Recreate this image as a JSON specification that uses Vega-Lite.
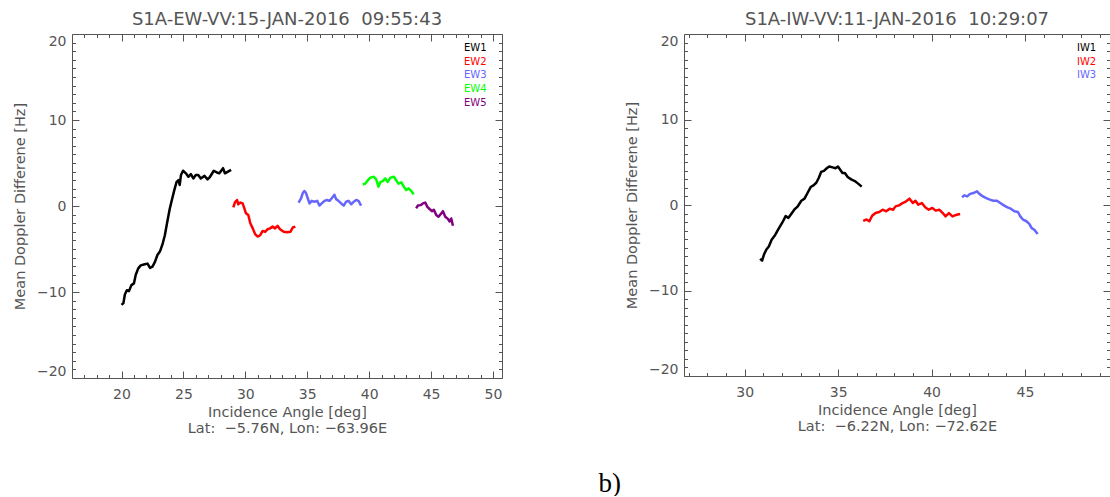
{
  "$schema": "https://vega.github.io/schema/vega-lite/v6.json",
  "padding": {"left": 12, "top": 10, "right": 0, "bottom": 0},
  "background": "white",
  "spacing": 182,
  "bounds": "flush",
  "config": {
    "view": {"stroke": null},
    "font": "DejaVu Sans",
    "axis": {
      "labelFont": "DejaVu Sans", "labelFontSize": 14, "labelColor": "#555",
      "titleFont": "DejaVu Sans", "titleFontSize": 14.5, "titleFontWeight": "normal", "titleColor": "#555",
      "domainColor": "#555", "tickColor": "#555", "grid": false, "labelOverlap": false, "labelBound": false
    },
    "title": {"font": "DejaVu Sans", "fontSize": 18, "fontWeight": "normal", "color": "#555", "offset": 5},
    "legend": {"labelFont": "DejaVu Sans", "labelFontSize": 10}
  },
  "datasets": {
    "ew": [
      {"beam":"EW1","angle":20.0,"doppler":-11.5},{"beam":"EW1","angle":20.15,"doppler":-11.3},{"beam":"EW1","angle":20.27,"doppler":-10.3},{"beam":"EW1","angle":20.43,"doppler":-9.8},{"beam":"EW1","angle":20.6,"doppler":-9.9},{"beam":"EW1","angle":20.8,"doppler":-9.2},{"beam":"EW1","angle":21.0,"doppler":-9.0},{"beam":"EW1","angle":21.15,"doppler":-8.0},{"beam":"EW1","angle":21.35,"doppler":-7.25},{"beam":"EW1","angle":21.55,"doppler":-6.9},{"beam":"EW1","angle":21.8,"doppler":-6.8},{"beam":"EW1","angle":22.1,"doppler":-6.7},{"beam":"EW1","angle":22.3,"doppler":-7.2},{"beam":"EW1","angle":22.5,"doppler":-7.05},{"beam":"EW1","angle":22.7,"doppler":-6.5},{"beam":"EW1","angle":22.9,"doppler":-5.7},{"beam":"EW1","angle":23.1,"doppler":-5.3},{"beam":"EW1","angle":23.3,"doppler":-4.5},{"beam":"EW1","angle":23.5,"doppler":-3.4},{"beam":"EW1","angle":23.7,"doppler":-1.8},{"beam":"EW1","angle":23.9,"doppler":-0.3},{"beam":"EW1","angle":24.1,"doppler":0.9},{"beam":"EW1","angle":24.3,"doppler":2.05},{"beam":"EW1","angle":24.45,"doppler":2.8},{"beam":"EW1","angle":24.6,"doppler":3.0},{"beam":"EW1","angle":24.7,"doppler":2.45},{"beam":"EW1","angle":24.8,"doppler":3.6},{"beam":"EW1","angle":24.97,"doppler":4.1},{"beam":"EW1","angle":25.2,"doppler":3.8},{"beam":"EW1","angle":25.4,"doppler":3.4},{"beam":"EW1","angle":25.6,"doppler":3.7},{"beam":"EW1","angle":25.8,"doppler":3.2},{"beam":"EW1","angle":26.0,"doppler":3.6},{"beam":"EW1","angle":26.2,"doppler":3.6},{"beam":"EW1","angle":26.4,"doppler":3.2},{"beam":"EW1","angle":26.7,"doppler":3.5},{"beam":"EW1","angle":26.95,"doppler":3.1},{"beam":"EW1","angle":27.15,"doppler":3.4},{"beam":"EW1","angle":27.45,"doppler":4.1},{"beam":"EW1","angle":27.7,"doppler":3.9},{"beam":"EW1","angle":27.9,"doppler":3.8},{"beam":"EW1","angle":28.2,"doppler":4.4},{"beam":"EW1","angle":28.35,"doppler":3.8},{"beam":"EW1","angle":28.6,"doppler":4.0},{"beam":"EW1","angle":28.85,"doppler":4.2},
      {"beam":"EW2","angle":29.03,"doppler":-0.15},{"beam":"EW2","angle":29.16,"doppler":0.43},{"beam":"EW2","angle":29.33,"doppler":0.7},{"beam":"EW2","angle":29.43,"doppler":0.2},{"beam":"EW2","angle":29.6,"doppler":0.4},{"beam":"EW2","angle":29.78,"doppler":0.3},{"beam":"EW2","angle":29.92,"doppler":-0.27},{"beam":"EW2","angle":30.05,"doppler":-0.85},{"beam":"EW2","angle":30.24,"doppler":-1.05},{"beam":"EW2","angle":30.4,"doppler":-2.0},{"beam":"EW2","angle":30.6,"doppler":-2.6},{"beam":"EW2","angle":30.8,"doppler":-3.3},{"beam":"EW2","angle":31.0,"doppler":-3.55},{"beam":"EW2","angle":31.2,"doppler":-3.4},{"beam":"EW2","angle":31.4,"doppler":-2.9},{"beam":"EW2","angle":31.6,"doppler":-3.0},{"beam":"EW2","angle":31.8,"doppler":-2.7},{"beam":"EW2","angle":32.0,"doppler":-2.6},{"beam":"EW2","angle":32.2,"doppler":-2.4},{"beam":"EW2","angle":32.4,"doppler":-2.6},{"beam":"EW2","angle":32.6,"doppler":-2.3},{"beam":"EW2","angle":32.8,"doppler":-2.7},{"beam":"EW2","angle":33.1,"doppler":-3.0},{"beam":"EW2","angle":33.37,"doppler":-3.06},{"beam":"EW2","angle":33.64,"doppler":-3.0},{"beam":"EW2","angle":33.83,"doppler":-2.5},{"beam":"EW2","angle":34.04,"doppler":-2.4},
      {"beam":"EW3","angle":34.3,"doppler":0.4},{"beam":"EW3","angle":34.5,"doppler":0.9},{"beam":"EW3","angle":34.64,"doppler":1.5},{"beam":"EW3","angle":34.77,"doppler":1.75},{"beam":"EW3","angle":34.9,"doppler":1.5},{"beam":"EW3","angle":35.04,"doppler":0.9},{"beam":"EW3","angle":35.18,"doppler":0.3},{"beam":"EW3","angle":35.36,"doppler":0.6},{"beam":"EW3","angle":35.58,"doppler":0.5},{"beam":"EW3","angle":35.8,"doppler":0.6},{"beam":"EW3","angle":35.98,"doppler":0.05},{"beam":"EW3","angle":36.17,"doppler":0.3},{"beam":"EW3","angle":36.39,"doppler":0.6},{"beam":"EW3","angle":36.6,"doppler":0.7},{"beam":"EW3","angle":36.8,"doppler":0.6},{"beam":"EW3","angle":36.98,"doppler":0.9},{"beam":"EW3","angle":37.2,"doppler":1.3},{"beam":"EW3","angle":37.33,"doppler":0.8},{"beam":"EW3","angle":37.52,"doppler":0.6},{"beam":"EW3","angle":37.74,"doppler":0.3},{"beam":"EW3","angle":37.95,"doppler":0.05},{"beam":"EW3","angle":38.14,"doppler":0.5},{"beam":"EW3","angle":38.33,"doppler":0.6},{"beam":"EW3","angle":38.55,"doppler":0.2},{"beam":"EW3","angle":38.76,"doppler":0.5},{"beam":"EW3","angle":38.95,"doppler":0.7},{"beam":"EW3","angle":39.14,"doppler":0.6},{"beam":"EW3","angle":39.35,"doppler":0.05},
      {"beam":"EW4","angle":39.49,"doppler":2.5},{"beam":"EW4","angle":39.68,"doppler":2.6},{"beam":"EW4","angle":39.9,"doppler":3.0},{"beam":"EW4","angle":40.1,"doppler":3.3},{"beam":"EW4","angle":40.38,"doppler":3.4},{"beam":"EW4","angle":40.57,"doppler":3.1},{"beam":"EW4","angle":40.75,"doppler":2.25},{"beam":"EW4","angle":40.92,"doppler":2.8},{"beam":"EW4","angle":41.1,"doppler":2.9},{"beam":"EW4","angle":41.3,"doppler":3.2},{"beam":"EW4","angle":41.5,"doppler":2.8},{"beam":"EW4","angle":41.72,"doppler":3.3},{"beam":"EW4","angle":42.0,"doppler":3.4},{"beam":"EW4","angle":42.18,"doppler":3.0},{"beam":"EW4","angle":42.37,"doppler":2.6},{"beam":"EW4","angle":42.6,"doppler":2.75},{"beam":"EW4","angle":42.8,"doppler":2.25},{"beam":"EW4","angle":43.0,"doppler":1.85},{"beam":"EW4","angle":43.18,"doppler":2.05},{"beam":"EW4","angle":43.4,"doppler":1.75},{"beam":"EW4","angle":43.6,"doppler":1.35},
      {"beam":"EW5","angle":43.8,"doppler":-0.27},{"beam":"EW5","angle":43.93,"doppler":0.05},{"beam":"EW5","angle":44.15,"doppler":0.1},{"beam":"EW5","angle":44.34,"doppler":0.3},{"beam":"EW5","angle":44.53,"doppler":0.4},{"beam":"EW5","angle":44.7,"doppler":-0.1},{"beam":"EW5","angle":44.88,"doppler":-0.35},{"beam":"EW5","angle":45.07,"doppler":-0.6},{"beam":"EW5","angle":45.23,"doppler":-0.45},{"beam":"EW5","angle":45.42,"doppler":-1.05},{"beam":"EW5","angle":45.6,"doppler":-1.25},{"beam":"EW5","angle":45.77,"doppler":-0.95},{"beam":"EW5","angle":45.96,"doppler":-0.6},{"beam":"EW5","angle":46.15,"doppler":-1.25},{"beam":"EW5","angle":46.36,"doppler":-1.5},{"beam":"EW5","angle":46.5,"doppler":-1.8},{"beam":"EW5","angle":46.63,"doppler":-1.45},{"beam":"EW5","angle":46.77,"doppler":-2.3}
    ],
    "iw": [
      {"beam":"IW1","angle":30.82,"doppler":-6.3},{"beam":"IW1","angle":30.93,"doppler":-6.5},{"beam":"IW1","angle":31.03,"doppler":-5.8},{"beam":"IW1","angle":31.16,"doppler":-5.2},{"beam":"IW1","angle":31.29,"doppler":-4.85},{"beam":"IW1","angle":31.44,"doppler":-4.06},{"beam":"IW1","angle":31.63,"doppler":-3.5},{"beam":"IW1","angle":31.81,"doppler":-2.8},{"beam":"IW1","angle":32.0,"doppler":-2.1},{"beam":"IW1","angle":32.19,"doppler":-1.3},{"beam":"IW1","angle":32.34,"doppler":-1.5},{"beam":"IW1","angle":32.47,"doppler":-1.1},{"beam":"IW1","angle":32.65,"doppler":-0.55},{"beam":"IW1","angle":32.84,"doppler":-0.15},{"beam":"IW1","angle":33.03,"doppler":0.5},{"beam":"IW1","angle":33.2,"doppler":0.74},{"beam":"IW1","angle":33.36,"doppler":1.4},{"beam":"IW1","angle":33.53,"doppler":2.1},{"beam":"IW1","angle":33.68,"doppler":2.3},{"beam":"IW1","angle":33.83,"doppler":2.6},{"beam":"IW1","angle":33.96,"doppler":3.16},{"beam":"IW1","angle":34.09,"doppler":3.87},{"beam":"IW1","angle":34.24,"doppler":4.0},{"beam":"IW1","angle":34.39,"doppler":4.3},{"beam":"IW1","angle":34.52,"doppler":4.5},{"beam":"IW1","angle":34.7,"doppler":4.4},{"beam":"IW1","angle":34.86,"doppler":4.3},{"beam":"IW1","angle":34.99,"doppler":4.5},{"beam":"IW1","angle":35.12,"doppler":4.1},{"beam":"IW1","angle":35.23,"doppler":3.75},{"beam":"IW1","angle":35.36,"doppler":3.75},{"beam":"IW1","angle":35.51,"doppler":3.28},{"beam":"IW1","angle":35.7,"doppler":3.0},{"beam":"IW1","angle":35.89,"doppler":2.8},{"beam":"IW1","angle":36.07,"doppler":2.5},{"beam":"IW1","angle":36.26,"doppler":2.15},
      {"beam":"IW2","angle":36.34,"doppler":-1.85},{"beam":"IW2","angle":36.52,"doppler":-1.7},{"beam":"IW2","angle":36.67,"doppler":-1.9},{"beam":"IW2","angle":36.82,"doppler":-1.25},{"beam":"IW2","angle":37.0,"doppler":-0.94},{"beam":"IW2","angle":37.2,"doppler":-0.82},{"beam":"IW2","angle":37.38,"doppler":-0.55},{"beam":"IW2","angle":37.57,"doppler":-0.74},{"beam":"IW2","angle":37.76,"doppler":-0.43},{"beam":"IW2","angle":37.94,"doppler":-0.55},{"beam":"IW2","angle":38.07,"doppler":-0.16},{"beam":"IW2","angle":38.26,"doppler":-0.04},{"beam":"IW2","angle":38.45,"doppler":0.23},{"beam":"IW2","angle":38.64,"doppler":0.43},{"beam":"IW2","angle":38.82,"doppler":0.74},{"beam":"IW2","angle":39.0,"doppler":0.23},{"beam":"IW2","angle":39.14,"doppler":0.5},{"beam":"IW2","angle":39.29,"doppler":0.04},{"beam":"IW2","angle":39.48,"doppler":0.23},{"beam":"IW2","angle":39.66,"doppler":-0.27},{"beam":"IW2","angle":39.85,"doppler":-0.55},{"beam":"IW2","angle":40.04,"doppler":-0.35},{"beam":"IW2","angle":40.22,"doppler":-0.66},{"beam":"IW2","angle":40.41,"doppler":-0.55},{"beam":"IW2","angle":40.6,"doppler":-0.94},{"beam":"IW2","angle":40.75,"doppler":-1.33},{"beam":"IW2","angle":40.93,"doppler":-0.94},{"beam":"IW2","angle":41.12,"doppler":-1.33},{"beam":"IW2","angle":41.35,"doppler":-1.13},{"beam":"IW2","angle":41.53,"doppler":-1.05},
      {"beam":"IW3","angle":41.63,"doppler":0.9},{"beam":"IW3","angle":41.76,"doppler":1.13},{"beam":"IW3","angle":41.91,"doppler":1.0},{"beam":"IW3","angle":42.06,"doppler":1.3},{"beam":"IW3","angle":42.24,"doppler":1.4},{"beam":"IW3","angle":42.43,"doppler":1.6},{"beam":"IW3","angle":42.56,"doppler":1.3},{"beam":"IW3","angle":42.75,"doppler":1.0},{"beam":"IW3","angle":42.93,"doppler":0.8},{"beam":"IW3","angle":43.12,"doppler":0.63},{"beam":"IW3","angle":43.3,"doppler":0.5},{"beam":"IW3","angle":43.5,"doppler":0.5},{"beam":"IW3","angle":43.68,"doppler":0.23},{"beam":"IW3","angle":43.87,"doppler":-0.04},{"beam":"IW3","angle":44.06,"doppler":-0.27},{"beam":"IW3","angle":44.24,"doppler":-0.43},{"beam":"IW3","angle":44.43,"doppler":-0.74},{"beam":"IW3","angle":44.62,"doppler":-0.82},{"beam":"IW3","angle":44.75,"doppler":-1.33},{"beam":"IW3","angle":44.9,"doppler":-1.72},{"beam":"IW3","angle":45.08,"doppler":-1.9},{"beam":"IW3","angle":45.23,"doppler":-2.2},{"beam":"IW3","angle":45.36,"doppler":-2.7},{"beam":"IW3","angle":45.5,"doppler":-2.9},{"beam":"IW3","angle":45.68,"doppler":-3.4}
    ]
  },
  "resolve": {"scale": {"color": "independent", "x": "independent", "y": "independent"}, "legend": {"color": "independent"}},
  "hconcat": [
    {
      "width": 430, "height": 344,
      "data": {"name": "ew"},
      "title": {"text": "S1A-EW-VV:15-JAN-2016\u00a0 09:55:43"},
      "resolve": {"axis": {"x": "independent", "y": "independent"}},
      "layer": [
        {
          "mark": {"type": "line", "strokeWidth": 2.5, "strokeJoin": "round"},
          "encoding": {
            "x": {"field": "angle", "type": "quantitative", "scale": {"domain": [16, 50.73], "nice": false, "zero": false},
              "axis": {"orient": "bottom", "values": [17,18,19,20,21,22,23,24,25,26,27,28,29,30,31,32,33,34,35,36,37,38,39,40,41,42,43,44,45,46,47,48,49,50],
                "format": "d", "labelExpr": "datum.value % 5 === 0 ? datum.label : ''",
                "tickSize": {"condition": {"test": "datum.value % 5 === 0", "value": -7}, "value": -3.5},
                "labelPadding": 16, "title": ["Incidence Angle [deg]", "Lat:\u00a0 \u22125.76N, Lon: \u221263.96E"], "titleLineHeight": 15.5, "titlePadding": 1}},
            "y": {"field": "doppler", "type": "quantitative", "scale": {"domain": [-20, 20], "nice": false, "zero": false},
              "axis": {"orient": "left", "values": [-20,-19,-18,-17,-16,-15,-14,-13,-12,-11,-10,-9,-8,-7,-6,-5,-4,-3,-2,-1,0,1,2,3,4,5,6,7,8,9,10,11,12,13,14,15,16,17,18,19,20],
                "format": "d", "labelExpr": "datum.value % 10 === 0 ? datum.label : ''", "labelFlush": true,
                "tickSize": {"condition": {"test": "datum.value % 10 === 0", "value": -7}, "value": -3.5},
                "labelPadding": 13, "title": "Mean Doppler Differene [Hz]", "titlePadding": 9}},
            "color": {"field": "beam", "type": "nominal",
              "scale": {"domain": ["EW1","EW2","EW3","EW4","EW5"], "range": ["#000000","#ff0000","#6666ff","#00ff00","#800080"]},
              "legend": {"orient": "none", "legendX": 382, "legendY": 9, "title": null, "symbolSize": 0, "symbolOpacity": 0, "symbolStrokeWidth": 0, "labelOffset": 0, "rowPadding": 3.7, "padding": 0,
                "encode": {"labels": {"update": {"fill": {"signal": "datum.value === 'EW1' ? '#000000' : datum.value === 'EW2' ? '#ff0000' : datum.value === 'EW3' ? '#6666ff' : datum.value === 'EW4' ? '#00ff00' : '#800080'"}}}}}}
          }
        },
        {
          "mark": {"type": "point", "opacity": 0},
          "encoding": {
            "x": {"field": "angle", "type": "quantitative",
              "axis": {"orient": "top", "values": [17,18,19,20,21,22,23,24,25,26,27,28,29,30,31,32,33,34,35,36,37,38,39,40,41,42,43,44,45,46,47,48,49,50],
                "labels": false, "title": null,
                "tickSize": {"condition": {"test": "datum.value % 5 === 0", "value": -7}, "value": -3.5}}},
            "y": {"field": "doppler", "type": "quantitative",
              "axis": {"orient": "right", "values": [-20,-19,-18,-17,-16,-15,-14,-13,-12,-11,-10,-9,-8,-7,-6,-5,-4,-3,-2,-1,0,1,2,3,4,5,6,7,8,9,10,11,12,13,14,15,16,17,18,19,20],
                "labels": false, "title": null,
                "tickSize": {"condition": {"test": "datum.value % 10 === 0", "value": -7}, "value": -3.5}}}
          }
        }
      ]
    },
    {
      "width": 426, "height": 342,
      "data": {"name": "iw"},
      "title": {"text": "S1A-IW-VV:11-JAN-2016\u00a0 10:29:07"},
      "resolve": {"axis": {"x": "independent", "y": "independent"}},
      "layer": [
        {
          "mark": {"type": "line", "strokeWidth": 2.5, "strokeJoin": "round"},
          "encoding": {
            "x": {"field": "angle", "type": "quantitative", "scale": {"domain": [26.75, 49.55], "nice": false, "zero": false},
              "axis": {"orient": "bottom", "values": [27,28,29,30,31,32,33,34,35,36,37,38,39,40,41,42,43,44,45,46,47,48,49],
                "format": "d", "labelExpr": "datum.value % 5 === 0 ? datum.label : ''",
                "tickSize": {"condition": {"test": "datum.value % 5 === 0", "value": -7}, "value": -3.5},
                "labelPadding": 16, "title": ["Incidence Angle [deg]", "Lat:\u00a0 \u22126.22N, Lon: \u221272.62E"], "titleLineHeight": 15.5, "titlePadding": 1}},
            "y": {"field": "doppler", "type": "quantitative", "scale": {"domain": [-20, 20], "nice": false, "zero": false},
              "axis": {"orient": "left", "values": [-20,-19,-18,-17,-16,-15,-14,-13,-12,-11,-10,-9,-8,-7,-6,-5,-4,-3,-2,-1,0,1,2,3,4,5,6,7,8,9,10,11,12,13,14,15,16,17,18,19,20],
                "format": "d", "labelExpr": "datum.value % 10 === 0 ? datum.label : ''", "labelFlush": true,
                "tickSize": {"condition": {"test": "datum.value % 10 === 0", "value": -7}, "value": -3.5},
                "labelPadding": 13, "title": "Mean Doppler Differene [Hz]", "titlePadding": 9}},
            "color": {"field": "beam", "type": "nominal",
              "scale": {"domain": ["IW1","IW2","IW3"], "range": ["#000000","#ff0000","#6666ff"]},
              "legend": {"orient": "none", "legendX": 383, "legendY": 9, "title": null, "symbolSize": 0, "symbolOpacity": 0, "symbolStrokeWidth": 0, "labelOffset": 0, "rowPadding": 3.7, "padding": 0,
                "encode": {"labels": {"update": {"fill": {"signal": "datum.value === 'IW1' ? '#000000' : datum.value === 'IW2' ? '#ff0000' : '#6666ff'"}}}}}}
          }
        },
        {
          "mark": {"type": "point", "opacity": 0},
          "encoding": {
            "x": {"field": "angle", "type": "quantitative",
              "axis": {"orient": "top", "values": [27,28,29,30,31,32,33,34,35,36,37,38,39,40,41,42,43,44,45,46,47,48,49],
                "labels": false, "title": null,
                "tickSize": {"condition": {"test": "datum.value % 5 === 0", "value": -7}, "value": -3.5}}},
            "y": {"field": "doppler", "type": "quantitative",
              "axis": {"orient": "right", "values": [-20,-19,-18,-17,-16,-15,-14,-13,-12,-11,-10,-9,-8,-7,-6,-5,-4,-3,-2,-1,0,1,2,3,4,5,6,7,8,9,10,11,12,13,14,15,16,17,18,19,20],
                "labels": false, "title": null,
                "tickSize": {"condition": {"test": "datum.value % 10 === 0", "value": -7}, "value": -3.5}}}
          }
        },
        {
          "mark": {"type": "point", "opacity": 0},
          "encoding": {
            "x": {"field": "angle", "type": "quantitative",
              "axis": {"orient": "bottom", "domain": false, "ticks": false, "labels": false, "title": "b)",
                "titleX": -86, "titleY": 115, "titleAlign": "left", "titleAnchor": null, "titleBaseline": "alphabetic",
                "titleFont": "Liberation Serif", "titleFontSize": 27, "titleColor": "#000000", "titleFontWeight": "normal"}},
            "y": {"field": "doppler", "type": "quantitative", "axis": null}
          }
        }
      ]
    }
  ]
}
